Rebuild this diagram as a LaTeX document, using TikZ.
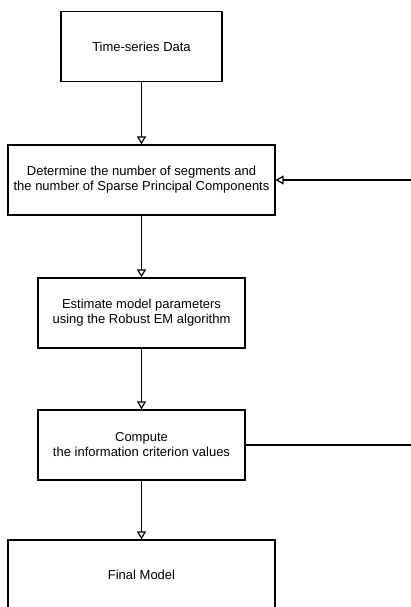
\documentclass[tikz,border=0pt]{standalone}
\usepackage{fontspec}
\setmainfont{Liberation Sans}
\usetikzlibrary{arrows.meta}
\begin{document}
\begin{tikzpicture}[x=1pt,y=-1pt,
    box/.style={draw,line width=1.2pt,minimum height=70pt,inner sep=0pt,
        align=center,font=\fontsize{13}{15}\selectfont},
    flow/.style={draw,line width=1.2pt,
        -{Triangle[open,length=8pt,width=9pt,line width=1.2pt]}}]
    \useasboundingbox (0,0) rectangle (411,607);
    \node[box,minimum width=161pt] (data) at (141.5,46.5) {Time-series Data}; % <<< box 1
    \node[box,minimum width=267pt] (segm) at (141.5,180)
    {Determine the number of segments and\\the number of Sparse Principal Components};
    \node[box,minimum width=207pt] (estim) at (141.5,313)
    {Estimate model parameters\\using the Robust EM algorithm};
    \node[box,minimum width=207pt] (crit) at (141.5,445)
    {Compute\\the information criterion values};
    \node[box,minimum width=267pt] (final) at (141.5,575) {Final Model}; % <<< cut at bottom
    \coordinate (back) at (430,445);
    \draw[flow] (data) -- (segm);
    \draw[flow] (segm) -- (estim);
    \draw[flow] (estim) -- (crit);
    \draw[flow] (crit) -- (final);
    \draw[flow] (crit.east) -- (back) |- (segm.east);
\end{tikzpicture}
\end{document}
